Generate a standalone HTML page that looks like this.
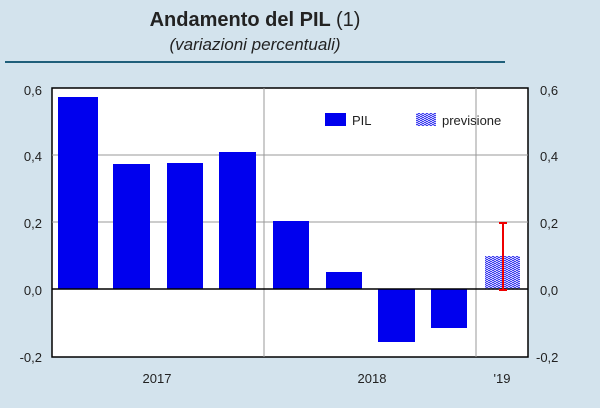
<!DOCTYPE html>
<html><head><style>body{margin:0;background:#d3e3ed;}</style></head><body>
<svg width="600" height="403" xmlns="http://www.w3.org/2000/svg" font-family="Liberation Sans, sans-serif">
<rect width="600" height="403" fill="#d3e3ed"/>
<defs><pattern id="p" width="4" height="4" patternUnits="userSpaceOnUse"><rect width="4" height="4" fill="#fff"/><path d="M0 1 Q1 0 2 1 T4 1 M0 3 Q1 2 2 3 T4 3" stroke="#2222ee" stroke-width="1" fill="none"/></pattern></defs>
<text x="255" y="26" font-size="20" font-weight="bold" text-anchor="middle" fill="#222">Andamento del PIL <tspan font-weight="normal">(1)</tspan></text>
<text x="255" y="50" font-size="17" font-style="italic" text-anchor="middle" fill="#222">(variazioni percentuali)</text>
<line x1="5" y1="62" x2="505" y2="62" stroke="#1f5f7a" stroke-width="2"/>
<rect x="52" y="88" width="476" height="269" fill="#fff" stroke="#000" stroke-width="1.5"/>
<g stroke="#999" stroke-width="1"><line x1="52" y1="155" x2="528" y2="155"/><line x1="52" y1="222" x2="528" y2="222"/>
<line x1="264" y1="88" x2="264" y2="357"/><line x1="476" y1="88" x2="476" y2="357"/></g>
<g fill="#0000ee">
<rect x="58" y="97" width="40" height="192"/><rect x="113" y="164" width="37" height="125"/>
<rect x="167" y="163" width="36" height="126"/><rect x="219" y="152" width="37" height="137"/>
<rect x="273" y="221" width="36" height="68"/><rect x="326" y="272" width="36" height="17"/>
<rect x="378" y="289" width="37" height="53"/><rect x="431" y="289" width="36" height="39"/>
</g>
<rect x="485" y="256" width="35" height="33" fill="url(#p)"/>
<line x1="52" y1="289" x2="528" y2="289" stroke="#000" stroke-width="1.5"/>
<g stroke="#e00" stroke-width="2"><line x1="503" y1="223" x2="503" y2="290"/><line x1="499" y1="223" x2="507" y2="223"/><line x1="499" y1="290" x2="507" y2="290"/></g>
<rect x="325" y="113" width="21" height="13" fill="#0000ee"/>
<text x="352" y="125" font-size="13" fill="#222">PIL</text>
<rect x="416" y="113" width="20" height="13" fill="url(#p)"/>
<text x="442" y="125" font-size="13" fill="#222">previsione</text>
<g font-size="13" fill="#222" text-anchor="end">
<text x="42" y="95">0,6</text><text x="42" y="161">0,4</text><text x="42" y="228">0,2</text><text x="42" y="295">0,0</text><text x="42" y="362">-0,2</text></g>
<g font-size="13" fill="#222"><text x="540" y="95">0,6</text><text x="540" y="161">0,4</text><text x="540" y="228">0,2</text><text x="540" y="295">0,0</text><text x="536" y="362">-0,2</text></g>
<g font-size="13" fill="#222" text-anchor="middle"><text x="157" y="383">2017</text><text x="372" y="383">2018</text><text x="502" y="383">'19</text></g>
</svg>
</body></html>
